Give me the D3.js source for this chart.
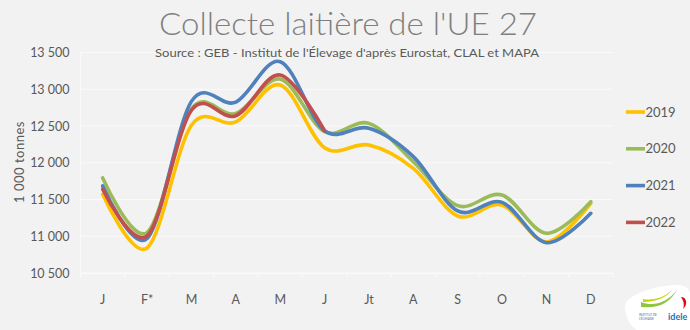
<!DOCTYPE html>
<html>
<head>
<meta charset="utf-8">
<script src="https://cdn.jsdelivr.net/npm/d3@7/dist/d3.min.js"></script>
<style>
  html, body { margin: 0; padding: 0; background: #f2f2f2; }
  svg { display: block; }
  text { font-family: "Lato", "Open Sans", sans-serif; }
</style>
</head>
<body>
<svg id="chart" width="690" height="330"></svg>
<script>
// Monthly EU-27 milk collection, thousand tonnes
const months = ["J", "F*", "M", "A", "M", "J", "Jt", "A", "S", "O", "N", "D"];
const years = ["2019", "2020", "2021", "2022"];
const colors = ["#FFC000", "#9BBB59", "#4F81BD", "#C0504D"];
const v2019 = [11571, 10840, 12510, 12555, 13058, 12205, 12241, 11924, 11276, 11425, 10925, 11448];
const v2020 = [11793, 11050, 12735, 12670, 13139, 12422, 12536, 12014, 11416, 11561, 11040, 11470];
const v2021 = [11684, 10970, 12835, 12825, 13375, 12436, 12468, 12083, 11344, 11461, 10912, 11312];
const v2022 = [11639, 11005, 12715, 12640, 13194, 12436];
const yTicks = [10500, 11000, 11500, 12000, 12500, 13000, 13500];

const seriesValues = [v2019, v2020, v2021, v2022];

const svg = d3.select("#chart");
const plotLeft = 80.5, plotRight = 613, plotTop = 52.5, plotBottom = 273;

const x = d3.scaleBand().domain(d3.range(12)).range([plotLeft, plotRight]);
const y = d3.scaleLinear().domain([10500, 13500]).range([plotBottom, plotTop]);

// Horizontal gridlines
svg.append("g")
  .selectAll("line")
  .data(yTicks)
  .join("line")
  .attr("x1", plotLeft).attr("x2", plotRight)
  .attr("y1", d => y(d)).attr("y2", d => y(d))
  .attr("stroke", "#fafafa").attr("stroke-width", 1);

// Left axis line
svg.append("line")
  .attr("x1", plotLeft).attr("x2", plotLeft)
  .attr("y1", plotTop).attr("y2", plotBottom)
  .attr("stroke", "#fafafa");

// Title and source
svg.append("text")
  .attr("x", 348).attr("y", 35)
  .attr("text-anchor", "middle")
  .attr("font-size", 31).attr("font-weight", 300)
  .attr("fill", "#7f7f7f")
  .attr("textLength", 378).attr("lengthAdjust", "spacingAndGlyphs")
  .text("Collecte laitière de l'UE 27");

svg.append("text")
  .attr("x", 347).attr("y", 56.5)
  .attr("text-anchor", "middle")
  .attr("font-family", "'Open Sans', sans-serif")
  .attr("font-size", 12)
  .attr("fill", "#595959")
  .attr("textLength", 384).attr("lengthAdjust", "spacingAndGlyphs")
  .text("Source : GEB - Institut de l'Élevage d'après Eurostat, CLAL et MAPA");

// Y axis
const yAxis = svg.append("g")
  .attr("transform", `translate(${plotLeft},0)`)
  .call(d3.axisLeft(y).tickValues(yTicks).tickSize(0).tickPadding(11)
    .tickFormat(d => d3.format(",")(d).replace(",", "\u202f")));
yAxis.select(".domain").remove();
yAxis.selectAll("text")
  .attr("font-family", "Lato, sans-serif")
  .attr("font-size", 12.5).attr("fill", "#595959");

// X axis
const xAxis = svg.append("g")
  .attr("transform", `translate(0,${plotBottom})`)
  .call(d3.axisBottom(x).tickFormat(i => months[i]).tickSize(0).tickPadding(22));
xAxis.select(".domain").attr("stroke", "#fafafa").attr("stroke-width", 1.2);
xAxis.selectAll("text")
  .attr("font-family", "Lato, sans-serif")
  .attr("font-size", 12.5).attr("fill", "#595959");
// tick marks at category boundaries
xAxis.append("g")
  .selectAll("line")
  .data(d3.range(13))
  .join("line")
  .attr("x1", i => plotLeft + i * x.step()).attr("x2", i => plotLeft + i * x.step())
  .attr("y1", 0).attr("y2", 4)
  .attr("stroke", "#fafafa").attr("stroke-width", 1.2);

// Y axis title
svg.append("text")
  .attr("transform", "translate(24,162) rotate(-90)")
  .attr("text-anchor", "middle")
  .attr("font-size", 13).attr("fill", "#595959")
  .attr("letter-spacing", 0.5)
  .text("1 000  tonnes");

// Smoothed lines
const line = d3.line()
  .x((d, i) => x(i) + x.bandwidth() / 2)
  .y(d => y(d))
  .curve(d3.curveCardinal.tension(0));

svg.append("g")
  .selectAll("path")
  .data(seriesValues)
  .join("path")
  .attr("d", d => line(d))
  .attr("fill", "none")
  .attr("stroke", (d, i) => colors[i])
  .attr("stroke-width", 3.6)
  .attr("stroke-linecap", "round")
  .attr("stroke-linejoin", "round");

// Legend
const legend = svg.append("g")
  .selectAll("g")
  .data(years)
  .join("g")
  .attr("transform", (d, i) => `translate(626,${112 + i * 36.8})`);
legend.append("line")
  .attr("x1", 0).attr("x2", 19)
  .attr("stroke", (d, i) => colors[i]).attr("stroke-width", 3.6);
legend.append("text")
  .attr("x", 19.5).attr("y", 4.5)
  .attr("font-size", 13).attr("fill", "#595959")
  .text(d => d);

// Idele logo
const logo = svg.append("g").attr("transform", "translate(623,283)");
logo.append("path")
  .attr("d", "M2,26 C0,14 22,6 42,3 C58,0 67,3 67,12 L67,47 L14,47 C6,42 3,34 2,26 Z")
  .attr("fill", "#ffffff");
logo.append("path")
  .attr("d", "M18,19 C30,24 44,20 54,7 C48,18 38,26 18,24 Z")
  .attr("fill", "#8dc63f");
logo.append("path")
  .attr("d", "M20,16 C32,18 42,14 50,6 C44,14 34,19 20,19 Z")
  .attr("fill", "#c8d400");
logo.append("path")
  .attr("d", "M58,14 C64,14 65,22 60,26 C62,21 60,17 58,14 Z")
  .attr("fill", "#e30613");
logo.append("text")
  .attr("x", 45).attr("y", 37)
  .attr("font-size", 9).attr("font-weight", 700)
  .attr("fill", "#1d71b8")
  .text("idele");
logo.append("text")
  .attr("x", 16).attr("y", 33)
  .attr("font-size", 3).attr("fill", "#1d71b8")
  .text("INSTITUT DE");
logo.append("text")
  .attr("x", 16).attr("y", 36.5)
  .attr("font-size", 3).attr("fill", "#1d71b8")
  .text("L'ÉLEVAGE");
</script>
</body>
</html>
